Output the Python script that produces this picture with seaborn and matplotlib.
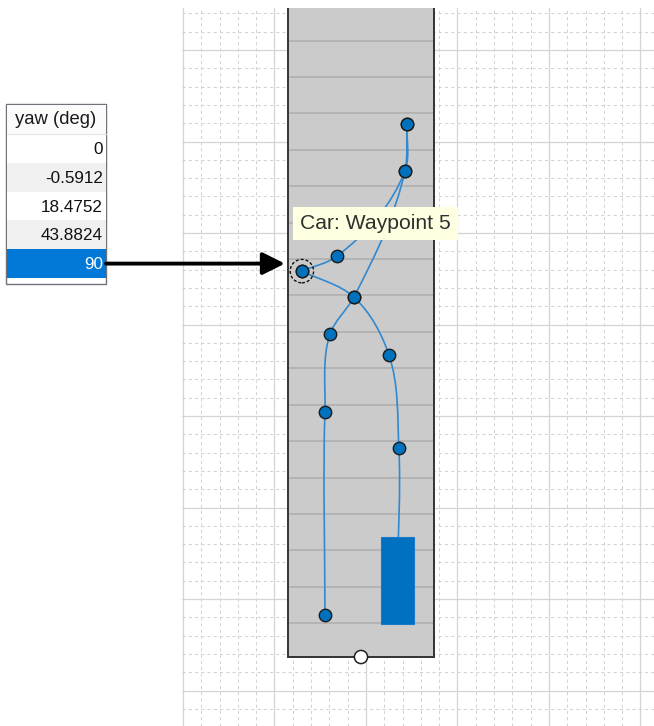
import numpy as np
import pandas as pd
import matplotlib
matplotlib.use("Agg")
import matplotlib.pyplot as plt
import seaborn as sns
from matplotlib.path import Path
from matplotlib.patches import PathPatch, Rectangle, Circle, FancyArrowPatch
from matplotlib.ticker import MultipleLocator

# ---------------- data (scenario metres: u = lateral, v = forward) ----------------
car_u = [1.72, 1.80, 1.26, -0.66, -3.50]
car_v = [6.01, 13.25, 18.33, 21.50, 22.92]
yaw_labels = ["0", "-0.5912", "18.4752", "43.8824", "90"]
yaw_header = "yaw (deg)"

actor_u = [-2.24, -2.24, -1.97, -0.66, 2.13, 2.24]
actor_v = [4.13, 15.23, 19.46, 21.50, 28.39, 30.96]

link_u = [-3.50, -1.58, 2.13, 2.24]
link_v = [22.92, 23.74, 28.39, 30.96]

road_center_u = -0.27
road_width = 8.0
road_start_v = 1.83
road_end_v = 40.0
segment_v = [3.68, 5.67, 7.66, 9.65, 11.64, 13.63, 15.62, 17.61, 19.60,
             21.59, 23.58, 25.57, 27.56, 29.55, 31.54, 33.53, 35.52]

car_length = 4.76
car_width = 1.8
selected_index = 4
tooltip_text = "Car: Waypoint 5"

# ---------------- style ----------------
sns.set_theme(style="white")
plt.rcParams["font.family"] = ["Liberation Sans", "DejaVu Sans"]

W, H = 654, 726
fig = plt.figure(figsize=(W / 100, H / 100), dpi=100)
fig.patch.set_facecolor("white")

ax = fig.add_axes([182 / W, 0, (W - 182) / W, (H - 8) / H])
ax.set_xlim(-10.05, 15.74)
ax.set_ylim(-1.94, 37.30)
for s in ax.spines.values():
    s.set_visible(False)
ax.xaxis.set_major_locator(MultipleLocator(5))
ax.xaxis.set_minor_locator(MultipleLocator(1))
ax.yaxis.set_major_locator(MultipleLocator(5))
ax.yaxis.set_minor_locator(MultipleLocator(1))
ax.tick_params(which="both", length=0, labelbottom=False, labelleft=False)
ax.set_axisbelow(True)
ax.grid(which="major", color="#D4D4D4", lw=0.9, ls="-")
ax.grid(which="minor", color="#D2D2D2", lw=0.75, ls=(0, (3, 3)))

# road
L = road_center_u - road_width / 2
R = road_center_u + road_width / 2
ax.add_patch(Rectangle((L, road_start_v), road_width, road_end_v - road_start_v,
                       fc="#CBCBCB", ec="none", zorder=1))
ax.hlines(segment_v, L, R, colors="#ADADAD", lw=1.1, zorder=1.5)
ax.plot([L, L, R, R], [road_end_v, road_start_v, road_start_v, road_end_v],
        color="#333333", lw=1.4, zorder=2, solid_joinstyle="miter")


def _unit(v):
    n = np.hypot(*v)
    return v / n if n > 0 else v


def smooth_path(us, vs):
    """Smooth cubic curve through the waypoints (chord-scaled Hermite)."""
    P = np.column_stack([us, vs]).astype(float)
    n = len(P)
    chords = [P[i + 1] - P[i] for i in range(n - 1)]
    dirs = []
    for i in range(n):
        if i == 0:
            dirs.append(_unit(chords[0]))
        elif i == n - 1:
            dirs.append(_unit(chords[-1]))
        else:
            dirs.append(_unit(_unit(chords[i - 1]) + _unit(chords[i])))
    verts = [P[0]]
    codes = [Path.MOVETO]
    for i in range(n - 1):
        d = np.hypot(*chords[i])
        verts += [P[i] + dirs[i] * d / 3, P[i + 1] - dirs[i + 1] * d / 3, P[i + 1]]
        codes += [Path.CURVE4] * 3
    return Path(verts, codes)


line_color = "#3189D0"
for us, vs in [(car_u, car_v), (actor_u, actor_v), (link_u, link_v)]:
    ax.add_patch(PathPatch(smooth_path(us, vs), fill=False, ec=line_color,
                           lw=1.2, zorder=3))

pts = pd.DataFrame({
    "u": car_u + actor_u + link_u,
    "v": car_v + actor_v + link_v,
})
sns.scatterplot(data=pts, x="u", y="v", ax=ax, s=80, color="#0072BD",
                edgecolor="#1A1A1A", linewidth=1.0, zorder=4, legend=False)
ax.set_xlabel("")
ax.set_ylabel("")

# selection ring on waypoint 5
sel_u, sel_v = car_u[selected_index], car_v[selected_index]
ax.add_patch(Circle((sel_u, sel_v), 0.64, fill=False, ec="#111111", lw=1.0,
                    ls=(0, (2.2, 1.4)), zorder=5))

# car body
ax.add_patch(Rectangle((car_u[0] - car_width / 2, car_v[0] - car_length / 2),
                       car_width, car_length, fc="#0070C0", ec="#1A7ACA",
                       lw=0.8, zorder=6))

# road start handle
ax.add_patch(Circle((road_center_u, road_start_v), 0.36, fc="white",
                    ec="#222222", lw=1.1, zorder=7))

# tooltip
ax.annotate(tooltip_text, xy=(sel_u, sel_v), xytext=(-2, 48),
            textcoords="offset pixels", ha="left", va="center", fontsize=15.2,
            color="#2F2F2F",
            bbox=dict(boxstyle="square,pad=0.33", fc="#FFFFE1", ec="none"),
            zorder=9)

# ---------------- overlay: yaw table + arrow ----------------
ov = fig.add_axes([0, 0, 1, 1], zorder=10)
ov.set_xlim(0, W)
ov.set_ylim(H, 0)
ov.axis("off")
ov.patch.set_alpha(0)

tx0, tx1, ty0, ty1 = 6, 106, 104, 284
head_h = 30
row_h = 28.8
ov.add_patch(Rectangle((tx0, ty0), tx1 - tx0, ty1 - ty0, fc="white",
                       ec="#6F747C", lw=1.0))
ov.add_patch(Rectangle((tx0 + 0.5, ty0 + 0.5), tx1 - tx0 - 1, head_h - 0.5,
                       fc="#FBFBFB", ec="none"))
ov.plot([tx0 + 0.5, tx1 - 0.5], [ty0 + head_h, ty0 + head_h], color="#E3E3E3", lw=0.8)
ov.text((tx0 + tx1) / 2, ty0 + head_h / 2 + 1, yaw_header, ha="center", va="center",
        fontsize=13.3, color="#1A1A1A")
for i, lab in enumerate(yaw_labels):
    y0 = ty0 + head_h + i * row_h
    if i == selected_index:
        fc, tc = "#0078D7", "white"
    elif i % 2 == 1:
        fc, tc = "#F0F0F0", "#111111"
    else:
        fc, tc = "white", "#111111"
    ov.add_patch(Rectangle((tx0 + 0.5, y0), tx1 - tx0 - 1, row_h, fc=fc, ec="none"))
    ov.text(tx1 - 3, y0 + row_h / 2 + 1, lab, ha="right", va="center",
            fontsize=12.3, color=tc)

# arrow from selected row to the selected waypoint
fig.canvas.draw()
wx, wy = ax.transData.transform((sel_u, sel_v))
row_y = ty0 + head_h + selected_index * row_h + row_h / 2
ov.add_patch(FancyArrowPatch((tx1, row_y), (wx - 17, row_y),
                             arrowstyle="-|>,head_length=0.9,head_width=0.45",
                             mutation_scale=15, lw=2.8, color="black",
                             shrinkA=0, shrinkB=0))

fig.savefig("out.png", dpi=100)
